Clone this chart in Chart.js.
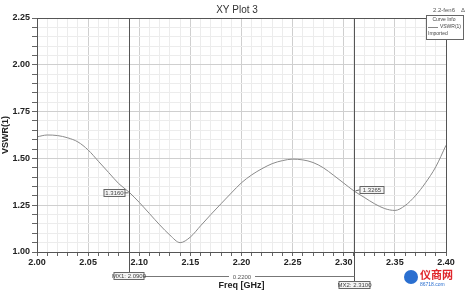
<!DOCTYPE html>
<html lang="en">
<head>
    <meta charset="UTF-8">
    <title>XY Plot 3</title>
    <script src="https://cdn.jsdelivr.net/npm/chart.js@4"></script>
    <style>
        body {
            margin: 0;
            background-color: white;
        }
        #wrap {
            position: relative;
            width: 474px;
            height: 291px;
        }
    </style>
</head>
<body>
    <div id="wrap">
        <canvas id="plot" width="474" height="291"></canvas>
    </div>

    <script>
        // Values
        const freqs = [2.00, 2.01, 2.02, 2.03, 2.04, 2.05, 2.06, 2.07, 2.08, 2.09,
                       2.10, 2.11, 2.12, 2.13, 2.14, 2.15, 2.16, 2.17, 2.18, 2.19,
                       2.20, 2.21, 2.22, 2.23, 2.24, 2.25, 2.26, 2.27, 2.28, 2.29,
                       2.30, 2.31, 2.32, 2.33, 2.34, 2.35, 2.36, 2.37, 2.38, 2.39, 2.40];
        const vswr = [1.615, 1.625, 1.622, 1.610, 1.588, 1.545, 1.485, 1.425, 1.365, 1.320,
                      1.265, 1.205, 1.145, 1.090, 1.050, 1.080, 1.140, 1.200, 1.258, 1.315,
                      1.370, 1.412, 1.445, 1.472, 1.488, 1.496, 1.492, 1.478, 1.450, 1.410,
                      1.368, 1.326, 1.292, 1.258, 1.232, 1.222, 1.248, 1.300, 1.370, 1.455, 1.570];

        const markerNames = ['MX1', 'MX2'];
        const markerFreqs = [2.09, 2.31];
        const markerVals = [1.3160, 1.3265];
        const markerDelta = '0.2200';

        const MAJOR = '#cfcfcf';
        const MINOR = '#ececec';

        function box(c, x, y, w, h, text) {
            c.fillStyle = '#f4f4f4';
            c.fillRect(x, y, w, h);
            c.strokeStyle = '#666';
            c.lineWidth = 1;
            c.strokeRect(x + 0.5, y + 0.5, w, h);
            c.fillStyle = '#444';
            c.font = '6px "Liberation Sans", Arial, sans-serif';
            c.textAlign = 'center';
            c.textBaseline = 'middle';
            c.fillText(text, x + w / 2 + 0.5, y + h / 2 + 1);
        }

        // markers, title, legend box and the rest of the decorations
        const extras = {
            id: 'extras',
            afterDatasetsDraw(chart) {
                const c = chart.ctx;
                const xs = chart.scales.x;
                const ys = chart.scales.y;
                const area = chart.chartArea;
                c.save();

                // plot frame
                c.strokeStyle = '#555';
                c.lineWidth = 1;
                c.strokeRect(area.left + 0.5, area.top + 0.5, area.right - area.left, area.bottom - area.top);

                // marker lines
                const mx = markerFreqs.map(f => Math.round(xs.getPixelForValue(f)) + 0.5);
                const bottoms = [277, 285];
                c.strokeStyle = '#555';
                mx.forEach((x, i) => {
                    c.beginPath();
                    c.moveTo(x, area.top);
                    c.lineTo(x, bottoms[i]);
                    c.stroke();
                });
                // delta line
                c.strokeStyle = '#777';
                c.beginPath();
                c.moveTo(mx[0], 276.5);
                c.lineTo(mx[1], 276.5);
                c.stroke();
                c.fillStyle = 'white';
                c.fillRect((mx[0] + mx[1]) / 2 - 13, 272, 26, 9);
                c.fillStyle = '#555';
                c.font = '6px "Liberation Sans", Arial, sans-serif';
                c.textAlign = 'center';
                c.textBaseline = 'middle';
                c.fillText(markerDelta, (mx[0] + mx[1]) / 2, 277);

                box(c, mx[0] - 16, 272, 30, 7, markerNames[0] + ': ' + markerFreqs[0].toFixed(4));
                box(c, mx[1] - 16, 281, 31, 7, markerNames[1] + ': ' + markerFreqs[1].toFixed(4));

                // marker value labels
                const y1 = ys.getPixelForValue(markerVals[0]);
                const y2 = ys.getPixelForValue(markerVals[1]);
                box(c, mx[0] - 26, Math.round(y1) - 4, 21, 7, markerVals[0].toFixed(4));
                c.strokeStyle = '#666';
                c.beginPath();
                c.moveTo(mx[0] - 5, y1);
                c.lineTo(mx[0] - 1, y1);
                c.stroke();
                box(c, mx[1] + 5, Math.round(y2) - 5, 24, 7, markerVals[1].toFixed(4));
                c.beginPath();
                c.moveTo(mx[1] + 5, y2 - 1);
                c.lineTo(mx[1] + 1, y2);
                c.stroke();

                // title
                c.fillStyle = '#333';
                c.font = '10px "Liberation Sans", Arial, sans-serif';
                c.textAlign = 'center';
                c.textBaseline = 'middle';
                c.fillText('XY Plot 3', 237, 10);

                // top right tag
                c.fillStyle = '#555';
                c.font = '6px "Liberation Sans", Arial, sans-serif';
                c.textAlign = 'left';
                c.fillText('2.2-fen6', 433, 10);
                c.fillText('Δ', 461, 10);

                // legend box
                c.fillStyle = 'white';
                c.fillRect(426, 15, 37, 24);
                c.strokeStyle = '#666';
                c.strokeRect(426.5, 15.5, 37, 24);
                c.fillStyle = '#444';
                c.font = '5px "Liberation Sans", Arial, sans-serif';
                c.textAlign = 'center';
                c.fillText('Curve Info', 444, 20);
                c.textAlign = 'right';
                c.fillText('VSWR(1)', 461, 27);
                c.textAlign = 'left';
                c.fillText('Imported', 428, 34);
                c.strokeStyle = '#888';
                c.beginPath();
                c.moveTo(428, 27.5);
                c.lineTo(438, 27.5);
                c.stroke();

                // watermark
                c.fillStyle = '#2a6fd0';
                c.beginPath();
                c.arc(411, 277, 7, 0, Math.PI * 2);
                c.fill();
                c.fillStyle = '#e0262b';
                c.font = 'bold 11px "Noto Sans CJK SC", sans-serif';
                c.textAlign = 'left';
                c.fillText('仪商网', 420, 275);
                c.fillStyle = '#2a6fd0';
                c.font = '5px "Liberation Sans", Arial, sans-serif';
                c.fillText('86718.com', 420, 285);

                c.restore();
            }
        };

        const ctx = document.getElementById('plot').getContext('2d');
        const chart = new Chart(ctx, {
            type: 'line',
            data: {
                datasets: [{
                    label: 'VSWR(1)',
                    data: freqs.map((f, i) => ({ x: f, y: vswr[i] })),
                    borderColor: '#8a8a8a',
                    borderWidth: 1,
                    cubicInterpolationMode: 'monotone',
                    pointRadius: 0
                }]
            },
            options: {
                responsive: false,
                animation: false,
                layout: {
                    padding: { top: 18, right: 28, left: 0, bottom: 0 }
                },
                plugins: {
                    legend: { display: false },
                    tooltip: { enabled: false }
                },
                scales: {
                    x: {
                        type: 'linear',
                        min: 2.0,
                        max: 2.4,
                        afterFit: s => { s.height = 39; },
                        border: { display: false },
                        grid: {
                            color: c => (c.tick && Math.round(c.tick.value * 100) % 5 === 0) ? MAJOR : MINOR,
                            tickLength: 4,
                            tickColor: '#666'
                        },
                        ticks: {
                            stepSize: 0.01,
                            autoSkip: false,
                            maxRotation: 0,
                            padding: 1,
                            color: '#222',
                            font: { family: '"Liberation Sans", Arial, sans-serif', size: 9, weight: 'bold' },
                            callback: v => Math.round(v * 100) % 5 === 0 ? v.toFixed(2) : ''
                        },
                        title: {
                            display: true,
                            text: 'Freq [GHz]',
                            color: '#222',
                            padding: 0,
                            font: { family: '"Liberation Sans", Arial, sans-serif', size: 9, weight: 'bold' }
                        }
                    },
                    y: {
                        min: 1.0,
                        max: 2.25,
                        afterFit: s => { s.width = 37; },
                        border: { display: false },
                        grid: {
                            color: c => (c.tick && Math.round(c.tick.value * 100) % 25 === 0) ? MAJOR : MINOR,
                            tickLength: 5,
                            tickColor: '#666'
                        },
                        ticks: {
                            stepSize: 0.05,
                            autoSkip: false,
                            padding: 2,
                            color: '#222',
                            font: { family: '"Liberation Sans", Arial, sans-serif', size: 9, weight: 'bold' },
                            callback: v => Math.round(v * 100) % 25 === 0 ? v.toFixed(2) : ''
                        },
                        title: {
                            display: true,
                            text: 'VSWR(1)',
                            color: '#222',
                            padding: 0,
                            font: { family: '"Liberation Sans", Arial, sans-serif', size: 9, weight: 'bold' }
                        }
                    }
                }
            },
            plugins: [extras]
        });
    </script>
</body>
</html>
